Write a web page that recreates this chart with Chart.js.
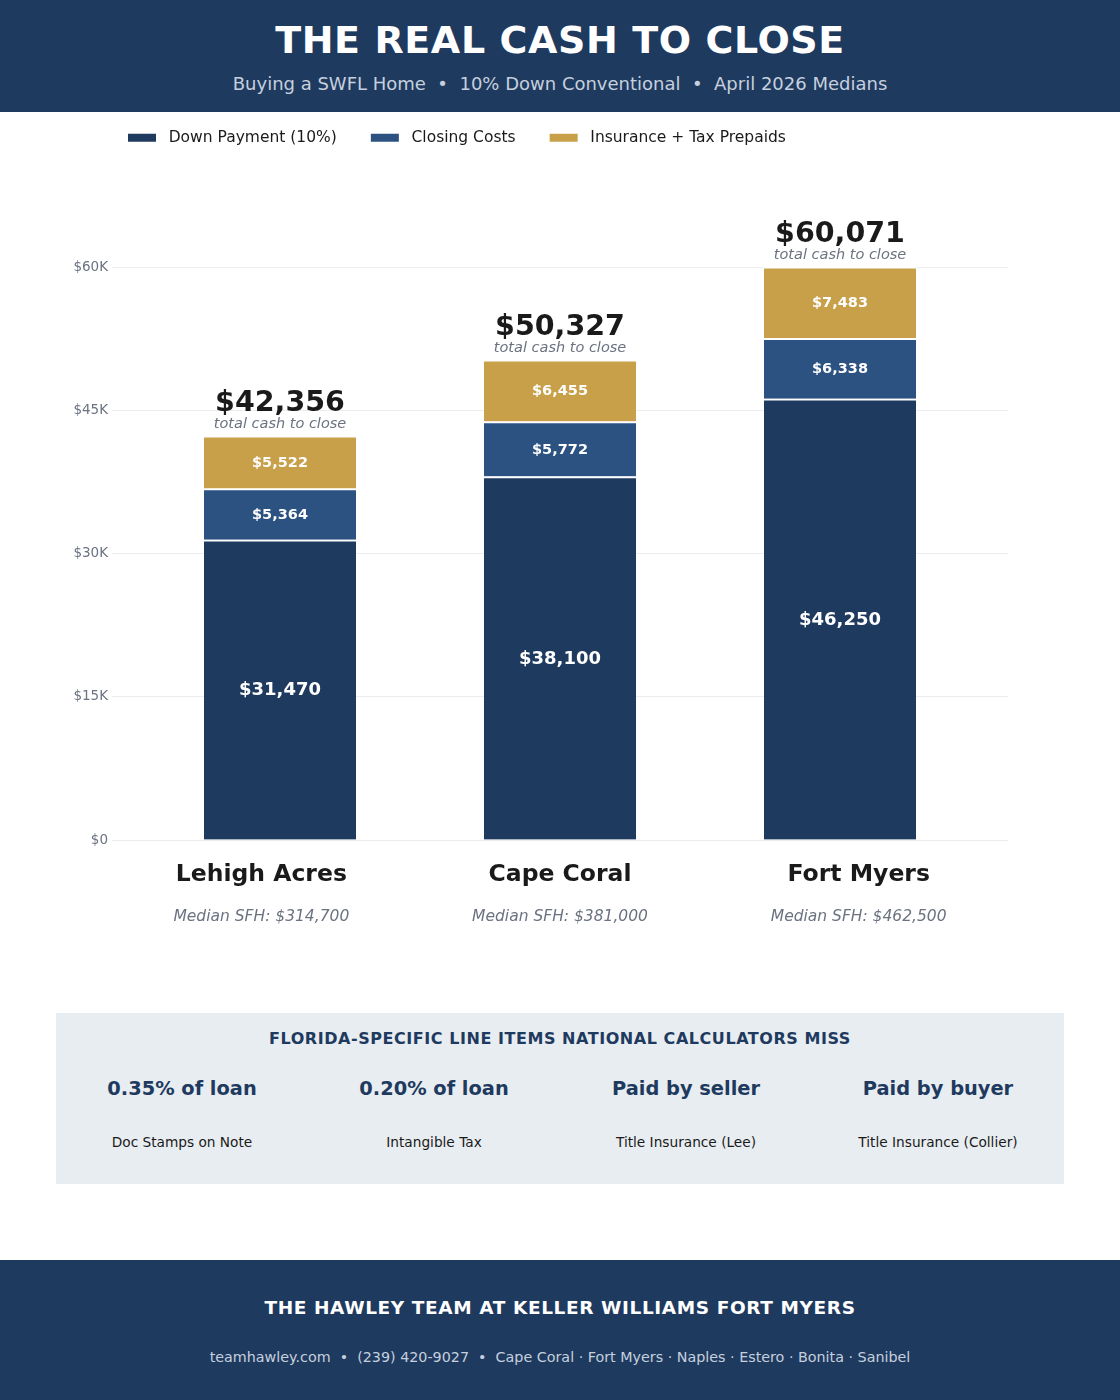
<!DOCTYPE html>
<html>
<head>
<meta charset="utf-8">
<script src="https://cdn.jsdelivr.net/npm/chart.js@4.4.1/dist/chart.umd.min.js"></script>
<style>
  html, body { margin: 0; padding: 0; background: #fff; font-family: "DejaVu Sans", sans-serif; }
  body { width: 1120px; height: 1400px; position: relative; overflow: hidden; }
  .header { position: absolute; left: 0; top: 0; width: 1120px; height: 112px; background: #1f3a5f; text-align: center; color: #fff; }
  .header h1 { margin: 0; position: absolute; top: 18px; width: 100%; font-size: 38px; font-weight: bold; letter-spacing: 0.6px; }
  .header .sub { position: absolute; top: 73px; width: 100%; font-size: 18px; color: #c5d0de; }
  .chartbox { position: absolute; left: 0; top: 96px; width: 1120px; height: 866px; z-index: 2; }
  .panel { position: absolute; left: 56px; top: 1013px; width: 1008px; height: 171px; background: #e8edf1; }
  .panel .title { position: absolute; top: 16px; width: 100%; text-align: center; font-size: 16px; font-weight: bold; color: #1f3a5f; letter-spacing: 0.55px; }
  .panel .col { position: absolute; top: 63px; width: 252px; text-align: center; }
  .panel .val { font-size: 19.4px; font-weight: bold; color: #1f3a5f; height: 26px; line-height: 26px; }
  .panel .lbl { margin-top: 32px; font-size: 13.7px; color: #1a1a1a; }
  .footer { position: absolute; left: 0; top: 1260px; width: 1120px; height: 140px; background: #1f3a5f; text-align: center; }
  .footer .t { position: absolute; top: 37px; width: 100%; font-size: 18.5px; font-weight: bold; color: #fff; letter-spacing: 0.6px; }
  .footer .c { position: absolute; top: 89px; width: 100%; font-size: 14.3px; color: #c5d0de; }
</style>
</head>
<body>
<div class="header">
  <h1>THE REAL CASH TO CLOSE</h1>
  <div class="sub">Buying a SWFL Home &nbsp;•&nbsp; 10% Down Conventional &nbsp;•&nbsp; April 2026 Medians</div>
</div>
<div class="chartbox"><canvas id="cashChart"></canvas></div>
<div class="panel">
  <div class="title">FLORIDA-SPECIFIC LINE ITEMS NATIONAL CALCULATORS MISS</div>
  <div id="items"></div>
</div>
<div class="footer">
  <div class="t">THE HAWLEY TEAM AT KELLER WILLIAMS FORT MYERS</div>
  <div class="c">teamhawley.com &nbsp;•&nbsp; (239) 420-9027 &nbsp;•&nbsp; Cape Coral · Fort Myers · Naples · Estero · Bonita · Sanibel</div>
</div>
<script>
const CITIES = ['Lehigh Acres', 'Cape Coral', 'Fort Myers'];
const MEDIANS = ['$314,700', '$381,000', '$462,500'];
const DOWN_PAYMENT = [31470, 38100, 46250];
const CLOSING_COSTS = [5364, 5772, 6338];
const PREPAIDS = [5522, 6455, 7483];
const Y_TICKS = [0, 15000, 30000, 45000, 60000];

const FL_VALUES = ['0.35% of loan', '0.20% of loan', 'Paid by seller', 'Paid by buyer'];
const FL_LABELS = ['Doc Stamps on Note', 'Intangible Tax', 'Title Insurance (Lee)', 'Title Insurance (Collier)'];

const NAVY = '#1f3a5f', BLUE = '#2c5282', GOLD = '#c9a04a';

function fmt(n) { return '$' + n.toLocaleString('en-US'); }

// florida panel
const itemsEl = document.getElementById('items');
FL_VALUES.forEach((v, i) => {
  const d = document.createElement('div');
  d.className = 'col';
  d.style.left = (i * 252) + 'px';
  d.innerHTML = `<div class="val">${v}</div><div class="lbl">${FL_LABELS[i]}</div>`;
  itemsEl.appendChild(d);
});

const pts = arr => arr.map((v, i) => ({ x: i, y: v }));
const seg = { top: 2, bottom: 0, left: 0, right: 0 };

// legend starts further in than the y axis gutter
const legendShift = {
  id: 'legendShift',
  afterLayout(chart) { chart.legend.left = 94; }
};

const labelsPlugin = {
  id: 'labels',
  afterDatasetsDraw(chart) {
    const ctx = chart.ctx;
    ctx.save();
    ctx.textAlign = 'center';
    ctx.textBaseline = 'middle';
    ctx.fillStyle = '#fff';
    chart.data.datasets.forEach((ds, di) => {
      const meta = chart.getDatasetMeta(di);
      meta.data.forEach((bar, i) => {
        ctx.font = di === 0 ? 'bold 18px "DejaVu Sans"' : 'bold 14.5px "DejaVu Sans"';
        ctx.fillText(fmt(ds.data[i].y), bar.x, (bar.y + bar.base) / 2 + 1);
      });
    });
    // totals above stacks
    const top = chart.getDatasetMeta(2);
    top.data.forEach((bar, i) => {
      const total = DOWN_PAYMENT[i] + CLOSING_COSTS[i] + PREPAIDS[i];
      ctx.fillStyle = '#1a1a1a';
      ctx.font = 'bold 28.5px "DejaVu Sans"';
      ctx.fillText(fmt(total), bar.x, bar.y - 32);
      ctx.fillStyle = '#6b7280';
      ctx.font = 'italic 14.5px "DejaVu Sans"';
      ctx.fillText('total cash to close', bar.x, bar.y - 12);
    });
    // city names + medians on the category axis
    const xc = chart.scales.xCity;
    const base = chart.chartArea.bottom;
    CITIES.forEach((c, i) => {
      const x = xc.getPixelForValue(i);
      ctx.fillStyle = '#1a1a1a';
      ctx.font = 'bold 23.5px "DejaVu Sans"';
      ctx.fillText(c, x, base + 35);
      ctx.fillStyle = '#6b7280';
      ctx.font = 'italic 15.5px "DejaVu Sans"';
      ctx.fillText('Median SFH: ' + MEDIANS[i], x, base + 77);
    });
    ctx.restore();
  }
};

Chart.defaults.font.family = '"DejaVu Sans", sans-serif';

new Chart(document.getElementById('cashChart'), {
  type: 'bar',
  data: {
    datasets: [
      { label: 'Down Payment (10%)', data: pts(DOWN_PAYMENT), backgroundColor: NAVY, borderColor: '#fff', borderWidth: seg, borderSkipped: false },
      { label: 'Closing Costs', data: pts(CLOSING_COSTS), backgroundColor: BLUE, borderColor: '#fff', borderWidth: seg, borderSkipped: false },
      { label: 'Insurance + Tax Prepaids', data: pts(PREPAIDS), backgroundColor: GOLD, borderColor: '#fff', borderWidth: seg, borderSkipped: false },
    ]
  },
  options: {
    responsive: true,
    maintainAspectRatio: false,
    animation: false,
    barThickness: 152,
    layout: { padding: { left: 56, right: 112, top: 0, bottom: 122 } },
    plugins: {
      legend: {
        align: 'start',
        labels: {
          boxWidth: 28, boxHeight: 8, padding: 34, color: '#1a1a1a', font: { size: 15.5 },
          generateLabels: chart => Chart.defaults.plugins.legend.labels.generateLabels(chart)
            .map(l => ({ ...l, text: ' ' + l.text, lineWidth: 0 }))
        }
      },
      tooltip: { enabled: false }
    },
    scales: {
      x: { type: 'linear', stacked: true, min: -0.6, max: 2.6, offset: false, display: false },
      xCity: { type: 'category', labels: CITIES, offset: true, display: false },
      y: {
        stacked: true, min: 0, max: 71750,
        afterFit: s => { s.width = 56; },
        afterBuildTicks: s => { s.ticks = Y_TICKS.map(v => ({ value: v })); },
        border: { display: false },
        grid: { color: '#ebedf0', drawTicks: false },
        ticks: {
          padding: 4, color: '#6b7280', font: { size: 13.5 },
          callback: v => v === 0 ? '$0' : '$' + (v / 1000) + 'K'
        }
      }
    }
  },
  plugins: [legendShift, labelsPlugin]
});
</script>
</body>
</html>
